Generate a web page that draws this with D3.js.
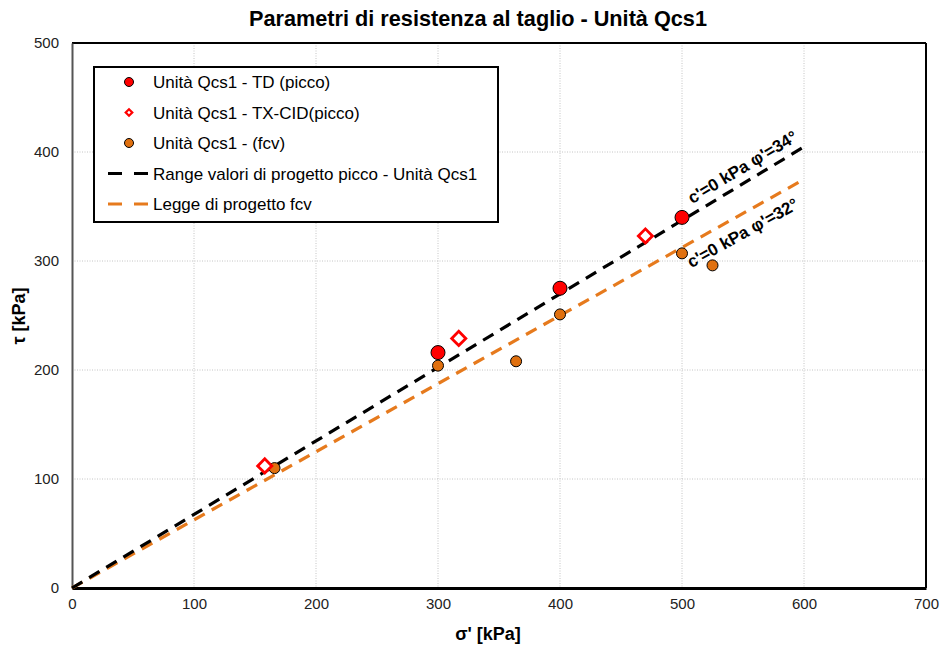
<!DOCTYPE html>
<html>
<head>
<meta charset="utf-8">
<script src="https://cdn.jsdelivr.net/npm/d3@7/dist/d3.min.js"></script>
<style>
  body { margin: 0; background: #fff; }
  svg { font-family: "Liberation Sans", Arial, sans-serif; }
</style>
</head>
<body>
<svg id="chart" width="940" height="646"></svg>
<script>
// Shear strength data (σ' vs τ, kPa)
const tdPicco = [[300, 216], [400, 275], [500, 340]];
const txCidPicco = [[158, 112], [317, 229], [470, 323]];
const fcv = [[166, 110], [300, 204], [364, 208], [400, 251], [500, 307], [525, 296]];
// Design envelopes: c' = 0, friction angle in degrees
const phiPicco = 34;
const phiFcv = 32;
const envelopeX = [0, 600];
const xTicks = [0, 100, 200, 300, 400, 500, 600, 700];
const yTicks = [0, 100, 200, 300, 400, 500];

const svg = d3.select("#chart");
const m = { left: 72, right: 926, top: 43, bottom: 588 };
const x = d3.scaleLinear().domain([0, 700]).range([m.left, m.right]);
const y = d3.scaleLinear().domain([0, 500]).range([m.bottom, m.top]);

// Grid
svg.append("g").selectAll("line").data(xTicks.slice(1, -1)).join("line")
  .attr("x1", d => x(d)).attr("x2", d => x(d)).attr("y1", m.top).attr("y2", m.bottom)
  .attr("stroke", "#c4c4c4").attr("stroke-width", 1).attr("stroke-dasharray", "1,1.5");
svg.append("g").selectAll("line").data(yTicks.slice(1, -1)).join("line")
  .attr("x1", m.left).attr("x2", m.right).attr("y1", d => y(d)).attr("y2", d => y(d))
  .attr("stroke", "#c4c4c4").attr("stroke-width", 1).attr("stroke-dasharray", "1,1.5");

// Frame
svg.append("line").attr("x1", m.left).attr("x2", m.right).attr("y1", m.top).attr("y2", m.top)
  .attr("stroke", "#000").attr("stroke-width", 2);
svg.append("line").attr("x1", m.right).attr("x2", m.right).attr("y1", m.top).attr("y2", m.bottom)
  .attr("stroke", "#000").attr("stroke-width", 2);

// Axes
const xAxis = svg.append("g").attr("transform", `translate(0,${m.bottom})`)
  .call(d3.axisBottom(x).tickValues(xTicks).tickSize(0).tickPadding(10));
xAxis.select(".domain").attr("stroke", "#000").attr("stroke-width", 3);
const yAxis = svg.append("g").attr("transform", `translate(${m.left},0)`)
  .call(d3.axisLeft(y).tickValues(yTicks).tickSize(0).tickPadding(13));
yAxis.select(".domain").attr("stroke", "#555").attr("stroke-width", 2);
svg.selectAll(".tick text").attr("font-size", 15).attr("fill", "#222")
  .attr("font-family", "'Liberation Sans', Arial, sans-serif");

// Envelopes
const envLine = d3.line().x(d => x(d[0])).y(d => y(d[1]));
const envelope = phi => envelopeX.map(s => [s, s * Math.tan(phi * Math.PI / 180)]);
svg.append("path").datum(envelope(phiFcv)).attr("d", envLine)
  .attr("fill", "none").attr("stroke", "#e67a1d").attr("stroke-width", 3.2)
  .attr("stroke-dasharray", "12,8");
svg.append("path").datum(envelope(phiPicco)).attr("d", envLine)
  .attr("fill", "none").attr("stroke", "#000").attr("stroke-width", 3.2)
  .attr("stroke-dasharray", "12,8");

// Points
svg.append("g").selectAll("circle").data(fcv).join("circle")
  .attr("cx", d => x(d[0])).attr("cy", d => y(d[1])).attr("r", 5.5)
  .attr("fill", "#e0700f").attr("stroke", "#000").attr("stroke-width", 1);
svg.append("g").selectAll("circle").data(tdPicco).join("circle")
  .attr("cx", d => x(d[0])).attr("cy", d => y(d[1])).attr("r", 7)
  .attr("fill", "#ff0000").attr("stroke", "#000").attr("stroke-width", 1);
const diamond = d3.symbol().type(d3.symbolSquare).size(100);
svg.append("g").selectAll("path").data(txCidPicco).join("path")
  .attr("d", diamond)
  .attr("transform", d => `translate(${x(d[0])},${y(d[1])}) rotate(45)`)
  .attr("fill", "#fff").attr("stroke", "#ff0000").attr("stroke-width", 2.8);

// Envelope labels
function envLabel(text, s, phi, dy) {
  const t = s * Math.tan(phi * Math.PI / 180);
  const ang = -Math.atan2(y(0) - y(t), x(s) - x(0)) * 180 / Math.PI;
  svg.append("text")
    .attr("transform", `translate(${x(s)},${y(t) + dy}) rotate(${ang})`)
    .attr("text-anchor", "middle")
    .attr("font-size", 17).attr("font-weight", "bold").attr("fill", "#000")
    .text(text);
}
envLabel("c'=0 kPa φ'=34°", 552, phiPicco, -10);
envLabel("c'=0 kPa φ'=32°", 552, phiFcv, 26);

// Legend
const lg = svg.append("g");
lg.append("rect").attr("x", 94).attr("y", 67).attr("width", 404).attr("height", 155)
  .attr("fill", "#fff").attr("stroke", "#000").attr("stroke-width", 2);
const rows = [
  { label: "Unità Qcs1 - TD (picco)", kind: "td" },
  { label: "Unità Qcs1 - TX-CID(picco)", kind: "tx" },
  { label: "Unità Qcs1 - (fcv)", kind: "fcv" },
  { label: "Range valori di progetto picco - Unità Qcs1", kind: "black" },
  { label: "Legge di progetto fcv", kind: "orange" }
];
rows.forEach((r, i) => {
  const cy = 82 + i * 30.5;
  if (r.kind === "td") {
    lg.append("circle").attr("cx", 129).attr("cy", cy).attr("r", 4.5)
      .attr("fill", "#ff0000").attr("stroke", "#000").attr("stroke-width", 1);
  } else if (r.kind === "tx") {
    lg.append("path").attr("d", d3.symbol().type(d3.symbolSquare).size(22))
      .attr("transform", `translate(129,${cy}) rotate(45)`)
      .attr("fill", "#fff").attr("stroke", "#ff0000").attr("stroke-width", 2.2);
  } else if (r.kind === "fcv") {
    lg.append("circle").attr("cx", 129).attr("cy", cy).attr("r", 4.5)
      .attr("fill", "#e0700f").attr("stroke", "#000").attr("stroke-width", 1);
  } else {
    lg.append("line").attr("x1", 108).attr("x2", 148).attr("y1", cy).attr("y2", cy)
      .attr("stroke", r.kind === "black" ? "#000" : "#e67a1d").attr("stroke-width", 3)
      .attr("stroke-dasharray", "14,12");
  }
  lg.append("text").attr("x", 153).attr("y", cy + 6).attr("font-size", 17)
    .attr("fill", "#000").text(r.label);
});

// Titles
svg.append("text").attr("x", 478).attr("y", 26).attr("text-anchor", "middle")
  .attr("font-size", 21.7).attr("font-weight", "bold").text("Parametri di resistenza al taglio - Unità Qcs1");
svg.append("text").attr("x", 488).attr("y", 640).attr("text-anchor", "middle")
  .attr("font-size", 18).attr("font-weight", "bold").text("σ' [kPa]");
svg.append("text").attr("transform", "translate(25,316) rotate(-90)").attr("text-anchor", "middle")
  .attr("font-size", 18).attr("font-weight", "bold").text("τ [kPa]");
</script>
</body>
</html>
